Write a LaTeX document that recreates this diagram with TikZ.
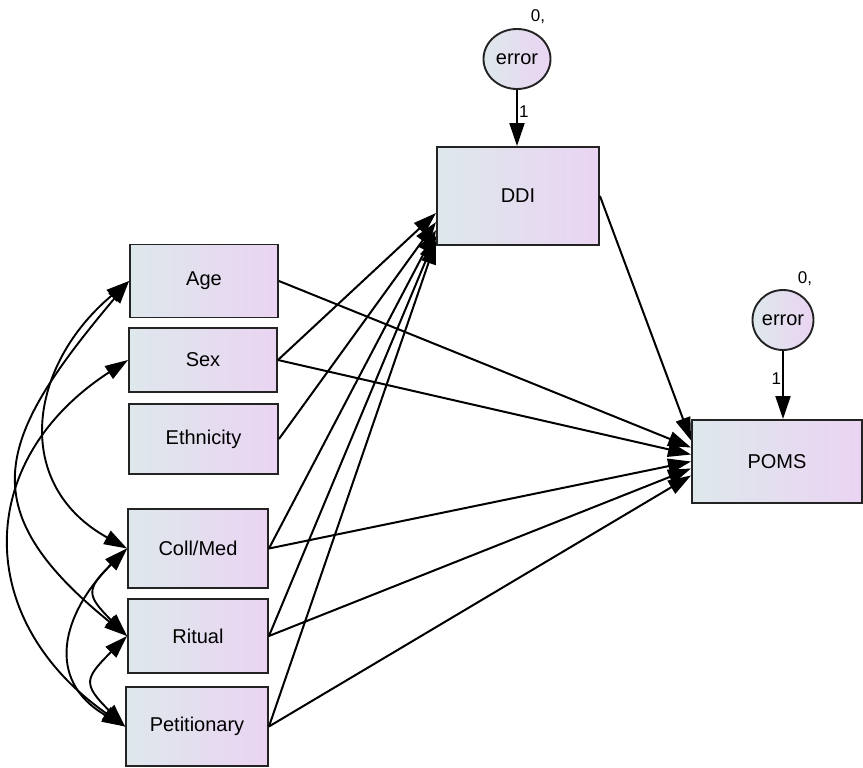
\documentclass[tikz,border=0pt]{standalone}
\usepackage{fontspec}
\setmainfont{Liberation Sans}
\usetikzlibrary{arrows.meta, shapes.geometric}

\definecolor{boxleft}{RGB}{222,232,236}
\definecolor{boxright}{RGB}{234,212,242}
\definecolor{boxline}{RGB}{35,35,35}

\begin{document}
\begin{tikzpicture}[x=1pt, y=1pt, line width=2pt, >={Triangle[length=23pt,width=15pt]},
   main node/.style={rectangle, draw=boxline, line width=1.9pt, left color=boxleft, right color=boxright, font=\fontsize{20}{24}\selectfont, inner sep=0pt},
   error node/.style={ellipse, draw=boxline, line width=1.9pt, left color=boxleft, right color=boxright, font=\fontsize{20}{24}\selectfont, inner sep=0pt, minimum height=60pt},
   small label/.style={font=\fontsize{17}{19}\selectfont, inner sep=1pt},
   cov/.style={<->, line width=1.9pt}]
   \useasboundingbox (0,0) rectangle (863,-768);

   % exogenous
   \node[main node, minimum width=148pt, minimum height=73pt] (age) at (204,-281) {Age};
   \node[main node, minimum width=148pt, minimum height=64pt] (sex) at (203,-360) {Sex};
   \node[main node, minimum width=149pt, minimum height=70pt] (eth) at (203.5,-439) {Ethnicity};
   \node[main node, minimum width=140pt, minimum height=79pt] (coll) at (198,-548.5) {Coll/Med};
   \node[main node, minimum width=140pt, minimum height=74pt] (ritual) at (198,-636) {Ritual};
   \node[main node, minimum width=142pt, minimum height=79pt] (pet) at (197,-726.5) {Petitionary};

   % endogenous
   \node[main node, minimum width=162pt, minimum height=98pt] (ddi) at (518,-196) {DDI};
   \node[main node, minimum width=170pt, minimum height=83pt] (poms) at (777,-461.5) {POMS};

   \node[error node, minimum width=67pt] (err1) at (517,-59) {error};
   \node[error node, minimum width=61pt] (err2) at (783,-320) {error};
   \node[small label] (var1) at (538,-17) {0,};
   \node[small label] (var2) at (805,-279) {0,};

   \draw (err1) edge[->] node[small label, right, pos=0.38] {1} (err1 |- ddi.north);
   \draw (err2) edge[->] node[small label, left, pos=0.4] {1} (err2 |- poms.north);

   % paths to DDI
   \draw (sex.east) edge[->] ([yshift=-17pt]ddi.west);
   \draw (eth.east) edge[->] ([yshift=-26pt]ddi.west);
   \draw (coll.east) edge[->] ([yshift=-34pt]ddi.west);
   \draw (ritual.east) edge[->] ([yshift=-40pt]ddi.west);
   \draw (pet.east) edge[->] ([yshift=-45pt]ddi.west);

   % paths to POMS
   \draw (ddi.east) edge[->] ([yshift=21pt]poms.west);
   \draw (age.east) edge[->] ([yshift=14pt]poms.west);
   \draw (sex.east) edge[->] ([yshift=7pt]poms.west);
   \draw (coll.east) edge[->] (poms.west);
   \draw (ritual.east) edge[->] ([yshift=-7pt]poms.west);
   \draw (pet.east) edge[->] ([yshift=-14pt]poms.west);

   % covariances
   \draw[cov] (age.west) to[out=220, in=151, looseness=1.26] (coll.west);
   \draw[cov] (age.west) to[out=230, in=141, looseness=1.47] (ritual.west);
   \draw[cov] (sex.west) to[out=213, in=145, looseness=1.29] (pet.west);
   \draw[cov] (coll.west) to[out=225, in=135, looseness=1.7] (ritual.west);
   \draw[cov] (coll.west) to[out=225, in=150, looseness=1.33] (pet.west);
   \draw[cov] (ritual.west) to[out=225, in=135, looseness=1.7] (pet.west);
\end{tikzpicture}
\end{document}
